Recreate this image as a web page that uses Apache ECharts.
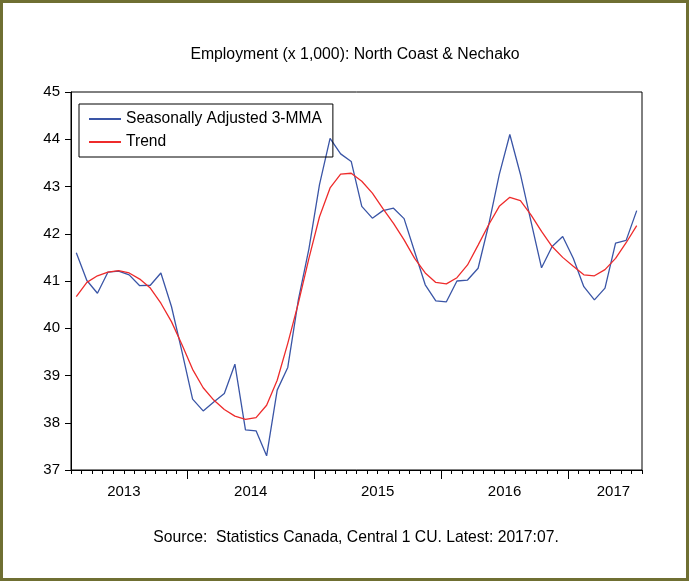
<!DOCTYPE html>
<html>
<head>
<meta charset="utf-8">
<script src="https://cdn.jsdelivr.net/npm/echarts@6/dist/echarts.min.js"></script>
<style>
    html, body {margin:0;padding:0;background:#ffffff;}
    #wrap {position:relative;width:689px;height:581px;}
    #chart {position:absolute;left:0;top:0;width:689px;height:581px;}
    #frame {position:absolute;left:0;top:0;width:689px;height:581px;box-sizing:border-box;border:3px solid #6f6f32;pointer-events:none;}
</style>
</head>
<body>
<div id="wrap">
    <div id="chart"></div>
    <div id="frame"></div>
</div>
<script>
    // months Feb 2013 .. Jul 2017
    var months = [];
    for (var y = 2013; y <= 2017; y++) {
        for (var m = 1; m <= 12; m++) {
            if (y == 2013 && m < 2) continue;
            if (y == 2017 && m > 7) continue;
            months.push(y + ':' + (m < 10 ? '0' + m : m));
        }
    }

    var seasAdj = [
        41.60, 41.01, 40.74, 41.19, 41.21, 41.13, 40.90, 40.91, 41.17, 40.46, 39.50,
        38.50, 38.25, 38.44, 38.62, 39.24, 37.85, 37.83, 37.30, 38.69, 39.17, 40.60, 41.68,
        43.04, 44.02, 43.69, 43.53, 42.58, 42.33, 42.49, 42.54, 42.32, 41.62, 40.92, 40.58,
        40.56, 41.00, 41.02, 41.27, 42.19, 43.25, 44.10, 43.26, 42.26, 41.28, 41.73, 41.94,
        41.48, 40.88, 40.60, 40.85, 41.80, 41.86, 42.49
    ];

    var trend = [
        40.67, 40.97, 41.11, 41.19, 41.22, 41.17, 41.04, 40.85, 40.53, 40.14, 39.65,
        39.13, 38.74, 38.48, 38.28, 38.14, 38.07, 38.11, 38.37, 38.90, 39.68, 40.53, 41.48,
        42.36, 42.97, 43.26, 43.28, 43.11, 42.86, 42.53, 42.22, 41.87, 41.48, 41.17, 40.97,
        40.94, 41.07, 41.34, 41.76, 42.19, 42.58, 42.77, 42.70, 42.40, 42.05, 41.73, 41.50,
        41.31, 41.13, 41.11, 41.24, 41.48, 41.81, 42.17
    ];

    // year labels sit at the middle of each year span (in months from Feb 2013)
    var yearLabels = ['2013', '2014', '2015', '2016', '2017'];
    var yearLabelPos = [5, 17, 29, 41, 51.3];
    var yearStarts = [11, 23, 35, 47];

    // a short tick at every month boundary
    var monthEdges = [];
    for (var i = 0; i <= months.length; i++) monthEdges.push(i);

    var font = 'Liberation Sans, Arial, sans-serif';

    var chart = echarts.init(document.getElementById('chart'));

    var option = {
        animation: false,
        backgroundColor: '#ffffff',
        grid: {
            left: 71, top: 92, right: 47, bottom: 111,
            show: true, borderColor: '#000000', borderWidth: 1,
            backgroundColor: 'transparent'
        },
        graphic: [
            {
                type: 'text', x: 355, y: 47,
                style: {
                    text: 'Employment (x 1,000): North Coast & Nechako',
                    textAlign: 'center',
                    font: '15.8px ' + font, fill: '#000000'
                }
            },
            {
                type: 'text', x: 356, y: 530,
                style: {
                    text: 'Source:  Statistics Canada, Central 1 CU. Latest: 2017:07.',
                    textAlign: 'center',
                    font: '15.7px ' + font, fill: '#000000'
                }
            }
        ],
        legend: {
            orient: 'vertical',
            left: 79, top: 104,
            padding: [7, 11, 7, 9],
            itemWidth: 32, itemHeight: 14, itemGap: 7,
            borderColor: '#000000', borderWidth: 1,
            itemStyle: {opacity: 0},
            textStyle: {fontFamily: font, fontSize: 15.6, color: '#000000'},
            data: ['Seasonally Adjusted 3-MMA', 'Trend']
        },
        xAxis: [
            {
                type: 'category',
                data: months,
                boundaryGap: true,
                axisLine: {lineStyle: {color: '#000000', width: 1}},
                axisTick: {show: false},
                axisLabel: {show: false},
                splitLine: {show: false}
            },
            {
                type: 'value',
                position: 'bottom',
                min: 0, max: months.length,
                axisLine: {show: false},
                axisTick: {show: true, length: 4, customValues: monthEdges, lineStyle: {color: '#000000'}},
                axisLabel: {show: false},
                splitLine: {show: false}
            },
            {
                type: 'value',
                position: 'bottom',
                min: 0, max: months.length,
                axisLine: {show: false},
                axisTick: {show: true, length: 9, customValues: yearStarts, lineStyle: {color: '#000000'}},
                axisLabel: {
                    customValues: yearLabelPos,
                    margin: 14,
                    fontFamily: font, fontSize: 15, color: '#000000',
                    formatter: function (v) {
                        var k = yearLabelPos.indexOf(v);
                        return k >= 0 ? yearLabels[k] : '';
                    }
                },
                splitLine: {show: false}
            }
        ],
        yAxis: {
            type: 'value',
            min: 37, max: 45, interval: 1,
            axisLine: {show: true, lineStyle: {color: '#000000'}},
            axisTick: {show: true, length: 6, lineStyle: {color: '#000000'}},
            axisLabel: {margin: 11, fontFamily: font, fontSize: 15, color: '#000000'},
            splitLine: {show: false}
        },
        series: [
            {
                name: 'Seasonally Adjusted 3-MMA',
                type: 'line',
                xAxisIndex: 0,
                data: seasAdj,
                symbol: 'none',
                lineStyle: {color: '#3a55a6', width: 1.3},
                itemStyle: {color: '#3a55a6'}
            },
            {
                name: 'Trend',
                type: 'line',
                xAxisIndex: 0,
                data: trend,
                symbol: 'none',
                lineStyle: {color: '#ee2b2b', width: 1.3},
                itemStyle: {color: '#ee2b2b'}
            }
        ]
    };
    chart.setOption(option);
</script>
</body>
</html>
